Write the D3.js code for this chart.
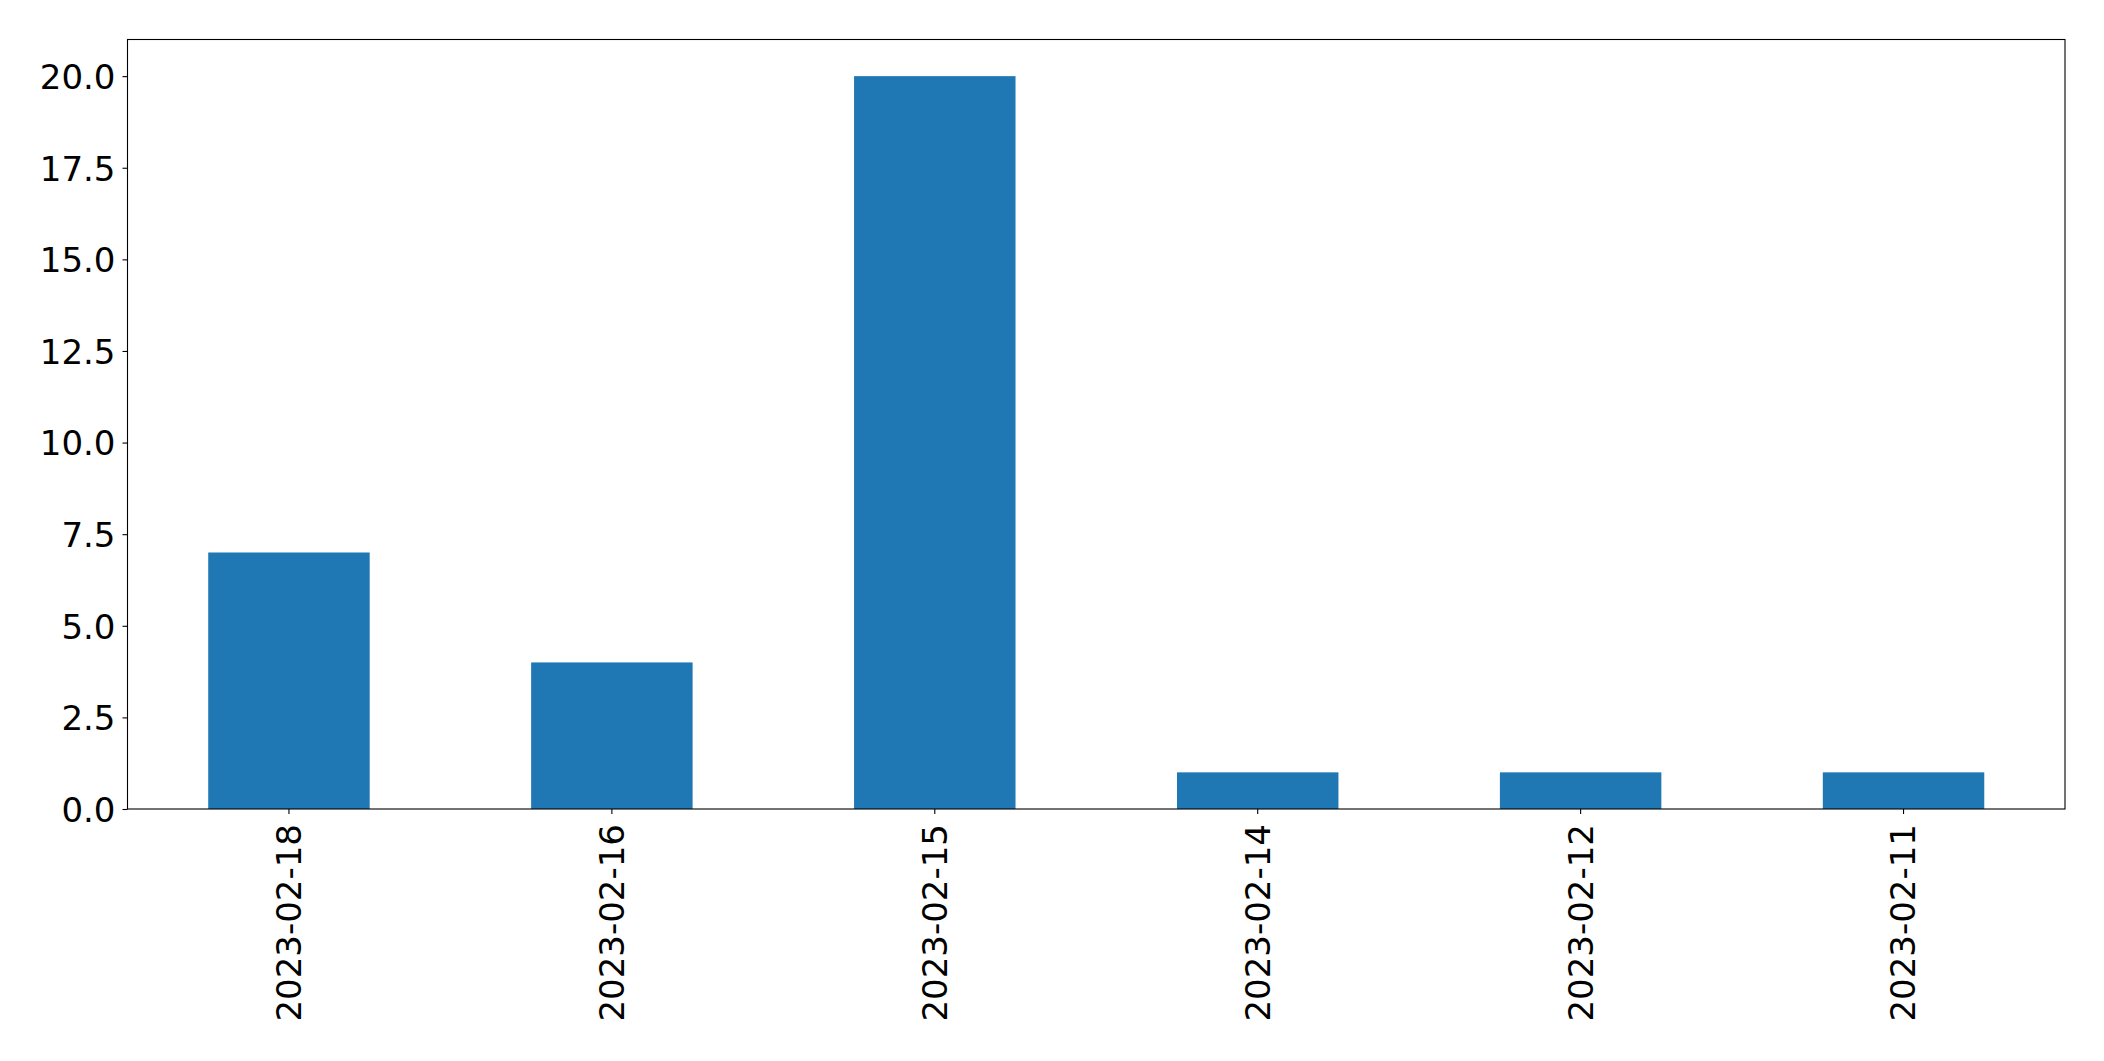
<!DOCTYPE html>
<html>
<head>
<meta charset="utf-8">
<script src="https://cdn.jsdelivr.net/npm/d3@7"></script>
<style>
html,body{margin:0;padding:0;background:#fff;}
svg{display:block;}
text{font-family:"DejaVu Sans",sans-serif;fill:#000;}
</style>
</head>
<body>
<svg id="chart" width="2104" height="1061"></svg>
<script>
const categories = ["2023-02-18","2023-02-16","2023-02-15","2023-02-14","2023-02-12","2023-02-11"];
const values = [7, 4, 20, 1, 1, 1];
const yTicks = [0, 2.5, 5, 7.5, 10, 12.5, 15, 17.5, 20];

const W = 2104, H = 1061;
const m = {left: 127.5, right: 2065, top: 39.5, bottom: 809};
const svg = d3.select("#chart");

const x = d3.scaleBand().domain(categories).range([m.left, m.right]).paddingInner(0.5).paddingOuter(0.25);
const y = d3.scaleLinear().domain([0, 21]).range([m.bottom, m.top]);

svg.append("g").selectAll("rect").data(values).join("rect")
  .attr("x", (d,i) => x(categories[i]))
  .attr("width", x.bandwidth())
  .attr("y", d => y(d))
  .attr("height", d => y(0) - y(d))
  .attr("fill", "#1f77b4");

// frame
svg.append("rect").attr("x", m.left).attr("y", m.top)
  .attr("width", m.right - m.left).attr("height", m.bottom - m.top)
  .attr("fill", "none").attr("stroke", "#000").attr("stroke-width", 1.1);

const yAxis = d3.axisLeft(y).tickValues(yTicks).tickFormat(d3.format(".1f")).tickSize(5).tickPadding(7);
const gy = svg.append("g").attr("transform", `translate(${m.left},0)`).call(yAxis);
gy.select(".domain").remove();
gy.selectAll(".tick line").attr("stroke", "#000").attr("stroke-width", 1.1);
gy.selectAll(".tick text").style("font-size", "34px").attr("dy", "0.36em")
  .style("font-family", "'DejaVu Sans', sans-serif").attr("fill", "#000");

const xAxis = d3.axisBottom(x).tickSize(5).tickPadding(0);
const gx = svg.append("g").attr("transform", `translate(0,${m.bottom})`).call(xAxis);
gx.select(".domain").remove();
gx.selectAll(".tick line").attr("stroke", "#000").attr("stroke-width", 1.1);
gx.selectAll(".tick text")
  .style("font-size", "34px").style("font-family", "'DejaVu Sans', sans-serif").attr("fill", "#000")
  .attr("text-anchor", "end").attr("dy", "0.35em").attr("x", 0).attr("y", 0)
  .attr("transform", "translate(0,15) rotate(-90)");
</script>
</body>
</html>
